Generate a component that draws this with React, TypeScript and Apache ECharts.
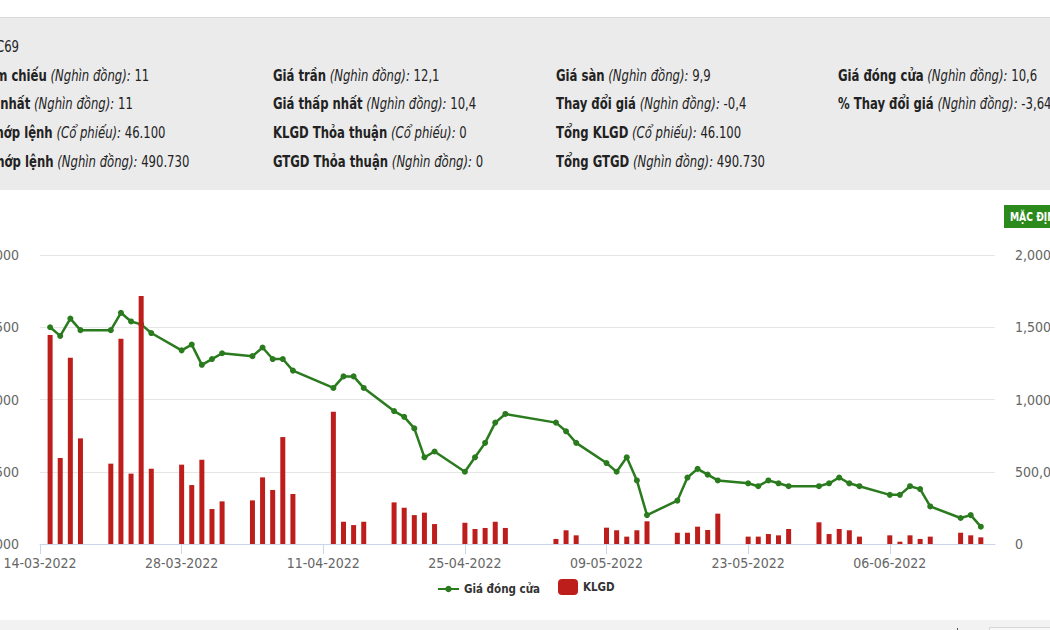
import React, { useEffect, useRef } from "react";
import * as echarts from "echarts";

const FF = '"DejaVu Sans Condensed", "Liberation Sans Narrow", "Liberation Sans", Arial, sans-serif';

// Trading dates (dd-mm-yyyy)
const dates = [
  "15-03-2022", "16-03-2022", "17-03-2022", "18-03-2022",
  "21-03-2022", "22-03-2022", "23-03-2022", "24-03-2022", "25-03-2022",
  "28-03-2022", "29-03-2022", "30-03-2022", "31-03-2022", "01-04-2022",
  "04-04-2022", "05-04-2022", "06-04-2022", "07-04-2022", "08-04-2022",
  "12-04-2022", "13-04-2022", "14-04-2022", "15-04-2022",
  "18-04-2022", "19-04-2022", "20-04-2022", "21-04-2022", "22-04-2022",
  "25-04-2022", "26-04-2022", "27-04-2022", "28-04-2022", "29-04-2022",
  "04-05-2022", "05-05-2022", "06-05-2022",
  "09-05-2022", "10-05-2022", "11-05-2022", "12-05-2022", "13-05-2022",
  "16-05-2022", "17-05-2022", "18-05-2022", "19-05-2022", "20-05-2022",
  "23-05-2022", "24-05-2022", "25-05-2022", "26-05-2022", "27-05-2022",
  "30-05-2022", "31-05-2022", "01-06-2022", "02-06-2022", "03-06-2022",
  "06-06-2022", "07-06-2022", "08-06-2022", "09-06-2022", "10-06-2022",
  "13-06-2022", "14-06-2022", "15-06-2022",
];

// Giá đóng cửa (đồng)
const closePrice = [
  17500, 17200, 17800, 17400,
  17400, 18000, 17700, 17600, 17300,
  16700, 16900, 16200, 16400, 16600,
  16500, 16800, 16400, 16400, 16000,
  15400, 15800, 15800, 15400,
  14600, 14400, 14000, 13000, 13200,
  12500, 13000, 13500, 14200, 14500,
  14200, 13900, 13500,
  12800, 12500, 13000, 12200, 11000,
  11500, 12300, 12600, 12400, 12200,
  12100, 12000, 12200, 12100, 12000,
  12000, 12100, 12300, 12100, 12000,
  11700, 11700, 12000, 11900, 11300,
  10900, 11000, 10600,
];

// KLGD (cổ phiếu)
const volume = [
  1446000, 595000, 1289000, 731000,
  556000, 1421000, 487000, 1716000, 521000,
  549000, 408000, 583000, 242000, 295000,
  302000, 461000, 374000, 740000, 346000,
  915000, 154000, 131000, 154000,
  288000, 251000, 200000, 217000, 138000,
  147000, 104000, 111000, 154000, 111000,
  35000, 95000, 60000,
  113000, 95000, 51000, 95000, 157000,
  78000, 78000, 120000, 97000, 210000,
  51000, 51000, 69000, 60000, 104000,
  150000, 69000, 104000, 95000, 51000,
  60000, 16000, 60000, 35000, 51000,
  78000, 60000, 46100,
];

const axisStartDate = "14-03-2022";
const axisEndDay = 94.4;
const xTickDays = [0, 14, 28, 42, 56, 70, 84];
const priceTicks = { min: 10000, max: 20000, step: 2500 };
const volumeTicks = { min: 0, max: 2000000, step: 500000 };

// Header info: [bold label, italic unit, value]
const headerTitle = "Mã CK: C69";
const headerCol1 = [
  ["Giá tham chiếu", "(Nghìn đồng):", "11"],
  ["Giá cao nhất", "(Nghìn đồng):", "11"],
  ["KLGD khớp lệnh", "(Cổ phiếu):", "46.100"],
  ["GTGD khớp lệnh", "(Nghìn đồng):", "490.730"],
];
const headerCol2 = [
  ["Giá trần", "(Nghìn đồng):", "12,1"],
  ["Giá thấp nhất", "(Nghìn đồng):", "10,4"],
  ["KLGD Thỏa thuận", "(Cổ phiếu):", "0"],
  ["GTGD Thỏa thuận", "(Nghìn đồng):", "0"],
];
const headerCol3 = [
  ["Giá sàn", "(Nghìn đồng):", "9,9"],
  ["Thay đổi giá", "(Nghìn đồng):", "-0,4"],
  ["Tổng KLGD", "(Cổ phiếu):", "46.100"],
  ["Tổng GTGD", "(Nghìn đồng):", "490.730"],
];
const headerCol4 = [
  ["Giá đóng cửa", "(Nghìn đồng):", "10,6"],
  ["% Thay đổi giá", "(Nghìn đồng):", "-3,64"],
];

const DAY = 86400000;
function parseDate(s: string) {
  const [d, m, y] = s.split("-").map(Number);
  return Date.UTC(y, m - 1, d);
}
const t0 = parseDate(axisStartDate);
function dayOffset(s: string) {
  return Math.round((parseDate(s) - t0) / DAY);
}
function fmtDay(v: number) {
  const dt = new Date(t0 + Math.round(v) * DAY);
  const dd = String(dt.getUTCDate()).padStart(2, "0");
  const mm = String(dt.getUTCMonth() + 1).padStart(2, "0");
  return `${dd}-${mm}-${dt.getUTCFullYear()}`;
}
const fmtNum = (v: number) => v.toLocaleString("en-US");

const ROW_Y = [46, 75, 103, 132, 161];
const SX = 0.81;
const TXT = "#222";
const LINE_COLOR = "#2a7a1e";
const BAR_COLOR = "#bd1e1c";

const rich = {
  b: { fontWeight: "bold", fontFamily: FF, fontSize: 16, fill: TXT },
  i: { fontStyle: "italic", fontFamily: FF, fontSize: 16, fill: TXT },
  v: { fontFamily: FF, fontSize: 16, fill: TXT },
};

function headerTexts(col: string[][], x: number, startRow: number) {
  return col.map((r, i) => {
    const [b, it, v] = r;
    return {
      type: "text",
      x,
      y: ROW_Y[startRow + i],
      scaleX: SX,
      silent: true,
      style: {
        text: `{b|${b}} {i|${it}} {v|${v}}`,
        fill: TXT,
        fontFamily: FF,
        fontSize: 16,
        verticalAlign: "middle",
        rich,
      },
    };
  });
}

export default function App() {
  const ref = useRef<HTMLDivElement>(null);
  useEffect(() => {
    if (!ref.current) return;
    const chart = echarts.init(ref.current, null, { renderer: "svg" });
    const xs = dates.map(dayOffset);
    const labelStyle = { color: "#666", fontFamily: FF, fontSize: 14 };
    const option: any = {
      animation: false,
      backgroundColor: "#fff",
      grid: { left: 40, right: 55, top: 255, bottom: 86, containLabel: false, outerBoundsMode: "none" },
      xAxis: {
        type: "value",
        min: 0,
        max: axisEndDay,
        splitLine: { show: false },
        axisLine: { show: true, lineStyle: { color: "#ccd6eb", width: 1 } },
        axisTick: {
          show: true,
          length: 10,
          customValues: xTickDays,
          lineStyle: { color: "#ccd6eb" },
        },
        axisLabel: {
          customValues: xTickDays,
          formatter: (v: number) => fmtDay(v),
          ...labelStyle,
          margin: 12,
        },
      },
      yAxis: [
        {
          type: "value",
          position: "left",
          min: priceTicks.min,
          max: priceTicks.max,
          interval: priceTicks.step,
          axisLine: { show: false },
          axisTick: { show: false },
          splitLine: { show: true, lineStyle: { color: "#e6e6e6", width: 1 } },
          axisLabel: { formatter: (v: number) => fmtNum(v), ...labelStyle, margin: 21 },
        },
        {
          type: "value",
          position: "right",
          min: volumeTicks.min,
          max: volumeTicks.max,
          interval: volumeTicks.step,
          axisLine: { show: false },
          axisTick: { show: false },
          splitLine: { show: false },
          axisLabel: { formatter: (v: number) => fmtNum(v), ...labelStyle, margin: 20 },
        },
      ],
      legend: [
        {
          data: ["Giá đóng cửa"],
          left: 437,
          top: 583,
          padding: 0,
          itemWidth: 21,
          itemHeight: 8,
          textStyle: { fontFamily: FF, fontSize: 11.5, fontWeight: "bold", color: "#333" },
        },
        {
          data: ["KLGD"],
          left: 558,
          top: 579,
          padding: 0,
          itemWidth: 20,
          itemHeight: 16,
          textStyle: { fontFamily: FF, fontSize: 11.5, fontWeight: "bold", color: "#333" },
        },
      ],
      series: [
        {
          name: "Giá đóng cửa",
          type: "line",
          yAxisIndex: 0,
          symbol: "circle",
          symbolSize: 6,
          itemStyle: { color: LINE_COLOR },
          lineStyle: { color: LINE_COLOR, width: 2.5 },
          data: xs.map((x, i) => [x, closePrice[i]]),
          z: 2,
        },
        {
          name: "KLGD",
          type: "bar",
          yAxisIndex: 1,
          barWidth: 5,
          itemStyle: { color: BAR_COLOR },
          data: xs.map((x, i) => [x, volume[i]]),
          z: 3,
        },
      ],
      graphic: [
        { type: "rect", shape: { x: 0, y: 17, width: 1050, height: 173 }, style: { fill: "#ebebeb" }, silent: true, z: -10 },
        { type: "line", shape: { x1: 0, y1: 17.5, x2: 1050, y2: 17.5 }, style: { stroke: "#d9d9d9", lineWidth: 1 }, silent: true },
        {
          type: "text",
          x: 19,
          y: ROW_Y[0],
          scaleX: SX,
          silent: true,
          style: { text: headerTitle, fill: TXT, fontFamily: FF, fontSize: 16, align: "right", verticalAlign: "middle" },
        },
        ...headerTexts(headerCol1, -52, 1),
        ...headerTexts(headerCol2, 273, 1),
        ...headerTexts(headerCol3, 556, 1),
        ...headerTexts(headerCol4, 838, 1),
        { type: "rect", shape: { x: 1004, y: 205, width: 60, height: 23 }, style: { fill: "#2c8a1c" }, silent: true },
        {
          type: "text",
          x: 1010,
          y: 217,
          scaleX: 0.85,
          silent: true,
          style: { text: "MẶC ĐỊNH", fill: "#fff", fontFamily: FF, fontSize: 12, fontWeight: "bold", verticalAlign: "middle" },
        },
        { type: "rect", shape: { x: 0, y: 620, width: 1050, height: 10 }, style: { fill: "#f2f2f2" }, silent: true },
        { type: "rect", shape: { x: 989.5, y: 627.5, width: 70, height: 10 }, style: { fill: "#f7f7f7", stroke: "#d6d6d6", lineWidth: 1 }, silent: true },
        { type: "line", shape: { x1: 957.5, y1: 628, x2: 957.5, y2: 630 }, style: { stroke: "#555", lineWidth: 1 }, silent: true },
      ],
    };
    chart.setOption(option);
    return () => chart.dispose();
  }, []);
  return (
    <div
      ref={ref}
      style={{ position: "absolute", left: 0, top: 0, width: 1050, height: 630, overflow: "hidden" }}
    />
  );
}
